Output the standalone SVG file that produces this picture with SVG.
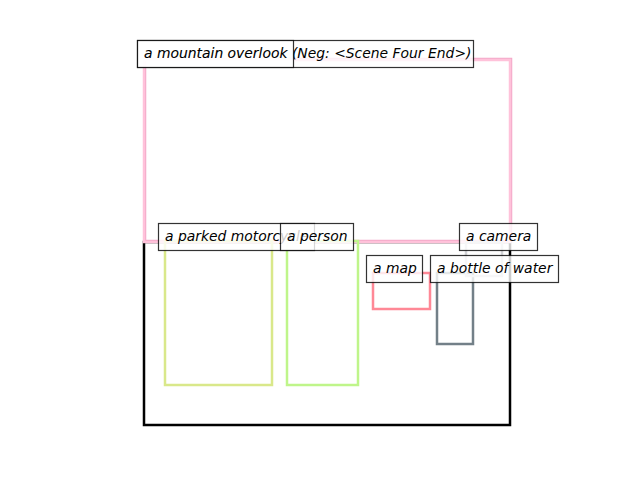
<svg xmlns="http://www.w3.org/2000/svg" width="640" height="480" viewBox="0 0 640 480">
<style>
.box{fill:none;stroke-width:2.5}
.lbl rect{fill:#ffffff;fill-opacity:0.8;stroke:#000000;stroke-opacity:0.8;stroke-width:1.2}
.lbl text{font-family:"DejaVu Sans",sans-serif;font-style:oblique;font-size:13.9px;fill:#000000}
</style>
<rect width="640" height="480" fill="#ffffff"/>
<g id="connectors"></g>
<g id="scene-bg">
<rect class="box" x="144" y="242" width="366" height="183" stroke="#000000"/>
<rect class="box" x="145" y="59" width="366" height="182" stroke="#f3a8c8"/>
<rect class="box" x="144" y="60" width="366" height="182" stroke="#ffc2da"/>
</g>
<g id="node-motorcycle"><rect class="box" x="165" y="241" width="107" height="144" stroke="#d9e88a"/></g>
<g id="node-person"><rect class="box" x="287" y="241" width="71" height="144" stroke="#bff58a"/></g>
<g id="node-map"><rect class="box" x="373" y="273" width="57" height="36" stroke="#ff8896"/></g>
<g id="node-bottle"><rect class="box" x="437" y="273" width="36" height="71" stroke="#738088"/></g>
<g id="node-camera"><rect class="box" x="466" y="242" width="36" height="34" stroke="#d2d3d6"/></g>
<g id="label-mountain-neg" class="lbl"><rect x="137.5" y="40.5" width="336" height="27"/><text x="144" y="58">a mountain overlook (Neg: &lt;Scene Four End&gt;)</text></g>
<g id="label-mountain" class="lbl"><rect x="137.5" y="40.5" width="156" height="27"/><text x="144" y="58">a mountain overlook</text></g>
<g id="label-motorcycle" class="lbl"><rect x="158.5" y="223.5" width="156" height="27"/><text x="165" y="241">a parked motorcycle</text></g>
<g id="label-person" class="lbl"><rect x="280.5" y="223.5" width="73" height="27"/><text x="287" y="241">a person</text></g>
<g id="label-camera" class="lbl"><rect x="459.5" y="223.5" width="78" height="27"/><text x="466" y="241">a camera</text></g>
<g id="label-map" class="lbl"><rect x="366.5" y="255.5" width="56" height="27"/><text x="373" y="273">a map</text></g>
<g id="label-bottle" class="lbl"><rect x="430.5" y="255.5" width="128" height="27"/><text x="437" y="273">a bottle of water</text></g>
</svg>
